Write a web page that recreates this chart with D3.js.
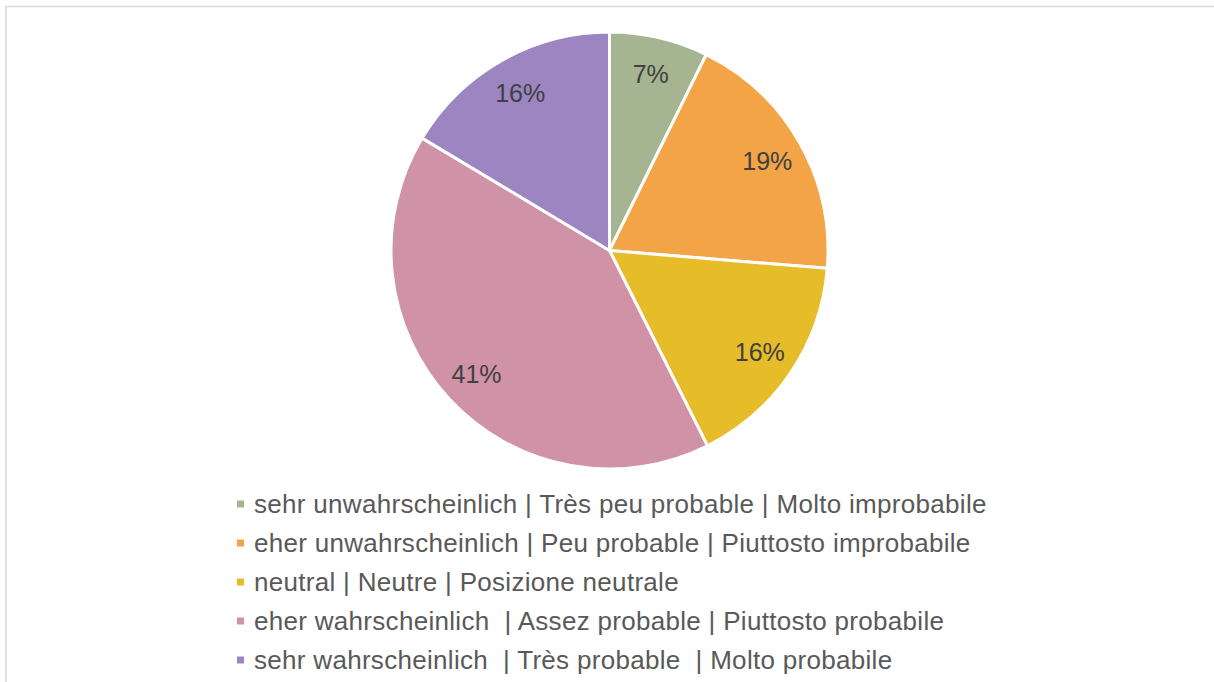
<!DOCTYPE html>
<html><head><meta charset="utf-8">
<script src="https://cdn.jsdelivr.net/npm/d3@7"></script>
<style>html,body{margin:0;padding:0;background:#fff;overflow:hidden}</style>
</head><body>
<svg id="c" width="1214" height="682"></svg>
<script>
const categories = [
  "sehr unwahrscheinlich | Très peu probable | Molto improbabile",
  "eher unwahrscheinlich | Peu probable | Piuttosto improbabile",
  "neutral | Neutre | Posizione neutrale",
  "eher wahrscheinlich  | Assez probable | Piuttosto probabile",
  "sehr wahrscheinlich  | Très probable  | Molto probabile"
];
const values = [7.3, 19.0, 16.3, 41.0, 16.4];
const colors = ["#A5B592", "#F3A447", "#E7BC29", "#D092A7", "#9C85C0"];

const svg = d3.select("#c");
svg.append("path").attr("d", "M6,690V6.5H1216").attr("fill", "none")
  .attr("stroke", "#d9d9d9").attr("stroke-width", 1.5);

const cx = 609.5, cy = 250.5, r = 218.5;
const total = d3.sum(values);
const pie = d3.pie().sort(null).value(d => d)(values);
const arc = d3.arc().innerRadius(0).outerRadius(r);
const labelArc = d3.arc().innerRadius(r * 0.83).outerRadius(r * 0.83);
const g = svg.append("g").attr("transform", `translate(${cx},${cy})`);
g.selectAll("path.s").data(pie).join("path").attr("class", "s")
  .attr("d", arc).attr("fill", (d, i) => colors[i])
  .attr("stroke", "#fff").attr("stroke-width", 3).attr("stroke-linejoin", "round");
g.selectAll("text").data(pie).join("text")
  .attr("transform", d => `translate(${labelArc.centroid(d)})`)
  .attr("text-anchor", "middle").attr("dy", "0.36em")
  .attr("font-family", "Liberation Sans, Arial, sans-serif").attr("font-size", 25)
  .attr("fill", "#404040")
  .text(d => Math.round(d.value / total * 100) + "%");

const ly = d3.scalePoint().domain(d3.range(categories.length)).range([504, 660]);
const lg = svg.append("g");
const items = lg.selectAll("g").data(categories).join("g")
  .attr("transform", (d, i) => `translate(237,${ly(i)})`);
items.append("rect").attr("x", 0).attr("y", -3.5).attr("width", 7).attr("height", 7)
  .attr("fill", (d, i) => colors[i]);
items.append("text").attr("x", 17).attr("y", 0).attr("dy", "0.34em")
  .attr("font-family", "Liberation Sans, Arial, sans-serif").attr("font-size", 26)
  .attr("letter-spacing", 0.3)
  .attr("fill", "#595959").attr("xml:space", "preserve").style("white-space", "pre")
  .text(d => d);
</script>
</body></html>
